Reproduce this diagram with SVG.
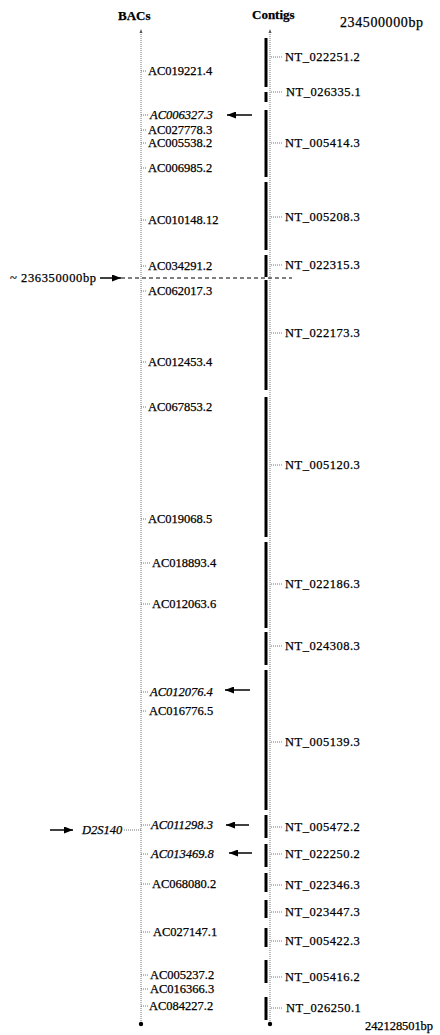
<svg xmlns="http://www.w3.org/2000/svg" width="440" height="1035" viewBox="0 0 440 1035">
<style>
text{font-family:"Liberation Serif","Times New Roman",serif;font-size:12.5px;fill:#000;stroke:#000;stroke-width:0.25}
.h{font-weight:bold;font-size:13px}
.it{font-style:italic}
.nt{letter-spacing:0.5px}
.ax{stroke:#777;stroke-width:1;stroke-dasharray:1 1;fill:none}
.tk{stroke:#777;stroke-width:1;stroke-dasharray:1 1}
.bar{stroke:#000;stroke-width:3}
.ar{stroke:#000;stroke-width:1.5;marker-end:url(#ah)}
.dash{stroke:#000;stroke-width:1.2;stroke-dasharray:4 3}
</style>
<defs>
<marker id="ah" markerWidth="9" markerHeight="7" refX="9" refY="3.5" orient="auto" markerUnits="userSpaceOnUse"><path d="M0,0 L9,3.5 L0,7 z" fill="#000"/></marker>
</defs>
<g id="headers">
<text class="h" x="118" y="20">BACs</text>
<text class="h" x="252" y="19">Contigs</text>
<text x="340" y="27" style="font-size:14px" textLength="83">234500000bp</text>
<text x="365" y="1030" textLength="68">242128501bp</text>
</g>
<g id="axes">
<line class="ax" x1="141" y1="32" x2="141" y2="1024"/>
<line class="ax" x1="270" y1="32" x2="270" y2="1024"/>
<path d="M141,29 l-1.5,4 h3 z" fill="#555"/>
<path d="M270,29 l-1.5,4 h3 z" fill="#555"/>
<circle cx="141" cy="1024" r="2.2" fill="#000"/>
<circle cx="270" cy="1024" r="2.2" fill="#000"/>
</g>
<g id="contig-bars">
<line class="bar" x1="266" y1="38" x2="266" y2="87"/>
<line class="bar" x1="266" y1="92" x2="266" y2="102"/>
<line class="bar" x1="266" y1="110" x2="266" y2="177"/>
<line class="bar" x1="266" y1="182" x2="266" y2="250"/>
<line class="bar" x1="266" y1="255" x2="266" y2="277"/>
<line class="bar" x1="266" y1="280" x2="266" y2="390"/>
<line class="bar" x1="266" y1="397" x2="266" y2="537"/>
<line class="bar" x1="266" y1="542" x2="266" y2="628"/>
<line class="bar" x1="266" y1="632" x2="266" y2="665"/>
<line class="bar" x1="266" y1="670" x2="266" y2="810"/>
<line class="bar" x1="266" y1="815" x2="266" y2="838"/>
<line class="bar" x1="266" y1="844" x2="266" y2="867"/>
<line class="bar" x1="266" y1="873" x2="266" y2="892"/>
<line class="bar" x1="266" y1="900" x2="266" y2="918"/>
<line class="bar" x1="266" y1="928" x2="266" y2="947"/>
<line class="bar" x1="266" y1="960" x2="266" y2="983"/>
<line class="bar" x1="266" y1="997" x2="266" y2="1020"/>
</g>
<g id="connectors">
<line class="dash" x1="121" y1="278" x2="292" y2="278"/>
<line class="ar" x1="100" y1="278" x2="121" y2="278"/>
<line class="ar" x1="50" y1="830" x2="73" y2="830"/>
<line class="tk" x1="124" y1="830" x2="141" y2="830"/>
<line class="ar" x1="252" y1="115" x2="227" y2="115"/>
<line class="ar" x1="250" y1="690" x2="225" y2="690"/>
<line class="ar" x1="249" y1="825" x2="226" y2="825"/>
<line class="ar" x1="252" y1="853" x2="229" y2="853"/>
<g id="bac-ticks">
<line class="tk" x1="141" y1="71" x2="147" y2="71"/>
<line class="tk" x1="141" y1="115" x2="149" y2="115"/>
<line class="tk" x1="141" y1="130" x2="147" y2="130"/>
<line class="tk" x1="141" y1="143" x2="147" y2="143"/>
<line class="tk" x1="141" y1="168" x2="147" y2="168"/>
<line class="tk" x1="141" y1="220" x2="147" y2="220"/>
<line class="tk" x1="141" y1="266" x2="147" y2="266"/>
<line class="tk" x1="141" y1="291" x2="147" y2="291"/>
<line class="tk" x1="141" y1="362" x2="147" y2="362"/>
<line class="tk" x1="141" y1="407" x2="147" y2="407"/>
<line class="tk" x1="141" y1="519" x2="147" y2="519"/>
<line class="tk" x1="141" y1="563" x2="151" y2="563"/>
<line class="tk" x1="141" y1="604" x2="150" y2="604"/>
<line class="tk" x1="141" y1="692" x2="149" y2="692"/>
<line class="tk" x1="141" y1="711" x2="147" y2="711"/>
<line class="tk" x1="141" y1="825" x2="150" y2="825"/>
<line class="tk" x1="141" y1="854" x2="149" y2="854"/>
<line class="tk" x1="141" y1="884" x2="151" y2="884"/>
<line class="tk" x1="141" y1="932" x2="151" y2="932"/>
<line class="tk" x1="141" y1="975" x2="149" y2="975"/>
<line class="tk" x1="141" y1="989" x2="149" y2="989"/>
<line class="tk" x1="141" y1="1006" x2="148" y2="1006"/>
</g>
<g id="contig-ticks">
<line class="tk" x1="271" y1="57" x2="283" y2="57"/>
<line class="tk" x1="271" y1="92" x2="283" y2="92"/>
<line class="tk" x1="271" y1="143" x2="283" y2="143"/>
<line class="tk" x1="271" y1="217" x2="283" y2="217"/>
<line class="tk" x1="271" y1="265" x2="283" y2="265"/>
<line class="tk" x1="271" y1="333" x2="283" y2="333"/>
<line class="tk" x1="271" y1="465" x2="283" y2="465"/>
<line class="tk" x1="271" y1="584" x2="283" y2="584"/>
<line class="tk" x1="271" y1="646" x2="283" y2="646"/>
<line class="tk" x1="271" y1="742" x2="283" y2="742"/>
<line class="tk" x1="271" y1="827" x2="283" y2="827"/>
<line class="tk" x1="271" y1="854" x2="283" y2="854"/>
<line class="tk" x1="271" y1="885" x2="283" y2="885"/>
<line class="tk" x1="271" y1="912" x2="283" y2="912"/>
<line class="tk" x1="271" y1="941" x2="283" y2="941"/>
<line class="tk" x1="271" y1="977" x2="283" y2="977"/>
<line class="tk" x1="271" y1="1008" x2="283" y2="1008"/>
</g>
</g>
<g id="markers">
<g id="pos-236350000"><text x="10" y="282" textLength="86">~ 236350000bp</text></g>
<g id="D2S140"><text class="it" x="82" y="834">D2S140</text></g>
</g>
<g id="bacs">
<g id="AC019221.4"><text x="148" y="75">AC019221.4</text></g>
<g id="AC006327.3"><text class="it" x="150" y="119">AC006327.3</text></g>
<g id="AC027778.3"><text x="148" y="134">AC027778.3</text></g>
<g id="AC005538.2"><text x="148" y="147">AC005538.2</text></g>
<g id="AC006985.2"><text x="148" y="172">AC006985.2</text></g>
<g id="AC010148.12"><text x="148" y="224">AC010148.12</text></g>
<g id="AC034291.2"><text x="148" y="270">AC034291.2</text></g>
<g id="AC062017.3"><text x="148" y="295">AC062017.3</text></g>
<g id="AC012453.4"><text x="148" y="366">AC012453.4</text></g>
<g id="AC067853.2"><text x="148" y="411">AC067853.2</text></g>
<g id="AC019068.5"><text x="148" y="523">AC019068.5</text></g>
<g id="AC018893.4"><text x="152" y="567">AC018893.4</text></g>
<g id="AC012063.6"><text x="152" y="608">AC012063.6</text></g>
<g id="AC012076.4"><text class="it" x="150" y="696">AC012076.4</text></g>
<g id="AC016776.5"><text x="149" y="715">AC016776.5</text></g>
<g id="AC011298.3"><text class="it" x="151" y="829">AC011298.3</text></g>
<g id="AC013469.8"><text class="it" x="151" y="858">AC013469.8</text></g>
<g id="AC068080.2"><text x="152" y="888">AC068080.2</text></g>
<g id="AC027147.1"><text x="153" y="936">AC027147.1</text></g>
<g id="AC005237.2"><text x="150" y="979">AC005237.2</text></g>
<g id="AC016366.3"><text x="150" y="993">AC016366.3</text></g>
<g id="AC084227.2"><text x="149" y="1010">AC084227.2</text></g>
</g>
<g id="contigs">
<g id="NT_022251.2"><text class="nt" x="285" y="61">NT_022251.2</text></g>
<g id="NT_026335.1"><text class="nt" x="286" y="96">NT_026335.1</text></g>
<g id="NT_005414.3"><text class="nt" x="285" y="147">NT_005414.3</text></g>
<g id="NT_005208.3"><text class="nt" x="285" y="221">NT_005208.3</text></g>
<g id="NT_022315.3"><text class="nt" x="285" y="269">NT_022315.3</text></g>
<g id="NT_022173.3"><text class="nt" x="285" y="337">NT_022173.3</text></g>
<g id="NT_005120.3"><text class="nt" x="285" y="469">NT_005120.3</text></g>
<g id="NT_022186.3"><text class="nt" x="285" y="588">NT_022186.3</text></g>
<g id="NT_024308.3"><text class="nt" x="285" y="650">NT_024308.3</text></g>
<g id="NT_005139.3"><text class="nt" x="285" y="746">NT_005139.3</text></g>
<g id="NT_005472.2"><text class="nt" x="285" y="831">NT_005472.2</text></g>
<g id="NT_022250.2"><text class="nt" x="285" y="858">NT_022250.2</text></g>
<g id="NT_022346.3"><text class="nt" x="285" y="889">NT_022346.3</text></g>
<g id="NT_023447.3"><text class="nt" x="285" y="916">NT_023447.3</text></g>
<g id="NT_005422.3"><text class="nt" x="285" y="945">NT_005422.3</text></g>
<g id="NT_005416.2"><text class="nt" x="285" y="981">NT_005416.2</text></g>
<g id="NT_026250.1"><text class="nt" x="286" y="1012">NT_026250.1</text></g>
</g>
</svg>
